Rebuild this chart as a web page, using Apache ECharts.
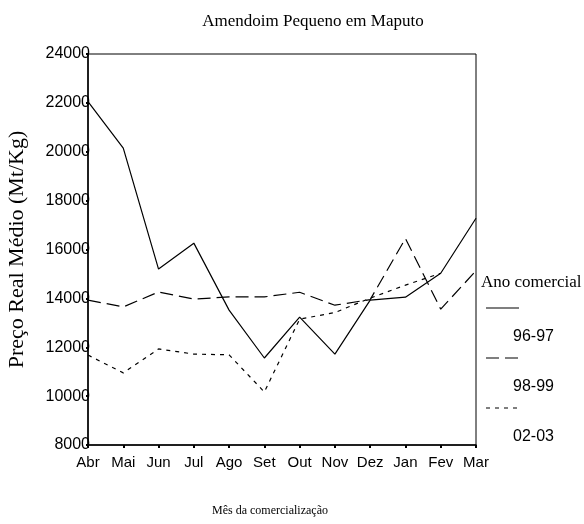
<!DOCTYPE html>
<html style="height: 100%">
<head>
    <meta charset="utf-8">
</head>
<body style="height: 100%; margin: 0; background: #fff">
<div id="container" style="width: 584px; height: 524px"></div>
<script src="https://cdn.jsdelivr.net/npm/echarts@6/dist/echarts.min.js"></script>
<script type="text/javascript">
    // dados
    var meses = ['Abr', 'Mai', 'Jun', 'Jul', 'Ago', 'Set', 'Out', 'Nov', 'Dez', 'Jan', 'Fev', 'Mar'];
    var anos = ['96-97', '98-99', '02-03'];
    var preco9697 = [22050, 20150, 15200, 16260, 13520, 11560, 13230, 11720, 13930, 14050, 15030, 17280];
    var preco9899 = [13930, 13650, 14260, 13970, 14060, 14060, 14250, 13720, 13950, 16450, 13560, 15130];
    var preco0203 = [11680, 10950, 11930, 11720, 11690, 10170, 13150, 13420, 14010, 14540, 15030, null];
    var yTicks = [8000, 24000, 2000]; // min, max, intervalo

    var dom = document.getElementById("container");
    var myChart = echarts.init(dom);

    var serif = '"Liberation Serif", "DejaVu Serif", serif';
    var sans = '"Liberation Sans", Arial, sans-serif';
    var dashes = ['solid', [13, 6], [4, 5]];
    var dados = [preco9697, preco9899, preco0203];

    var series = [];
    for (var i = 0; i < anos.length; i++) {
        series.push({
            name: anos[i],
            type: 'line',
            data: dados[i],
            symbol: 'none',
            connectNulls: false,
            lineStyle: {color: '#000', width: 1.2, type: dashes[i]}
        });
    }

    // legenda à direita (linha em cima, texto em baixo)
    var legenda = [{
        type: 'text', left: 481, top: 274,
        style: {text: 'Ano comercial', font: '17px ' + serif, fill: '#000'}
    }];
    for (var j = 0; j < anos.length; j++) {
        var y0 = 308 + j * 50;
        legenda.push({
            type: 'line',
            shape: {x1: 486, y1: y0, x2: 519, y2: y0},
            style: {stroke: '#000', lineWidth: 1.2, lineDash: dashes[j] === 'solid' ? null : dashes[j]}
        });
        legenda.push({
            type: 'text', left: 513, top: y0 + 21,
            style: {text: anos[j], font: '16px ' + sans, fill: '#000'}
        });
    }

    var option = {
        animation: false,
        title: {
            text: 'Amendoim Pequeno em Maputo',
            left: 308, top: 8, textAlign: 'center',
            textStyle: {fontFamily: serif, fontSize: 17, fontWeight: 'normal', color: '#000'}
        },
        grid: {
            left: 88, right: 108, top: 54, bottom: 79,
            outerBoundsMode: 'none', containLabel: false,
            show: true, borderColor: '#000', borderWidth: 1
        },
        xAxis: {
            type: 'category',
            data: meses,
            boundaryGap: false,
            name: 'Mês da comercialização',
            nameLocation: 'middle',
            nameGap: 60,
            nameTextStyle: {fontFamily: serif, fontSize: 12, color: '#000', padding: [0, 24, 0, 0]},
            axisLine: {lineStyle: {color: '#000', width: 1.5}},
            axisTick: {length: 3, lineStyle: {color: '#000', width: 2}},
            axisLabel: {fontFamily: sans, fontSize: 15, color: '#000', margin: 10, interval: 0},
            splitLine: {show: false}
        },
        yAxis: {
            type: 'value',
            min: yTicks[0],
            max: yTicks[1],
            interval: yTicks[2],
            name: 'Preço Real Médio (Mt/Kg)',
            nameLocation: 'middle',
            nameGap: 60,
            nameTextStyle: {fontFamily: serif, fontSize: 22, color: '#000'},
            axisLine: {show: true, lineStyle: {color: '#000', width: 1.5}},
            axisTick: {show: true, length: 2, lineStyle: {color: '#000', width: 2}},
            axisLabel: {
                fontFamily: sans, fontSize: 16, color: '#000', margin: -2,
                formatter: function (v) { return String(v); }
            },
            splitLine: {show: false}
        },
        graphic: legenda,
        series: series
    };

    myChart.setOption(option);
    window.addEventListener("resize", function () {
        myChart.resize();
    });
</script>
</body>
</html>
